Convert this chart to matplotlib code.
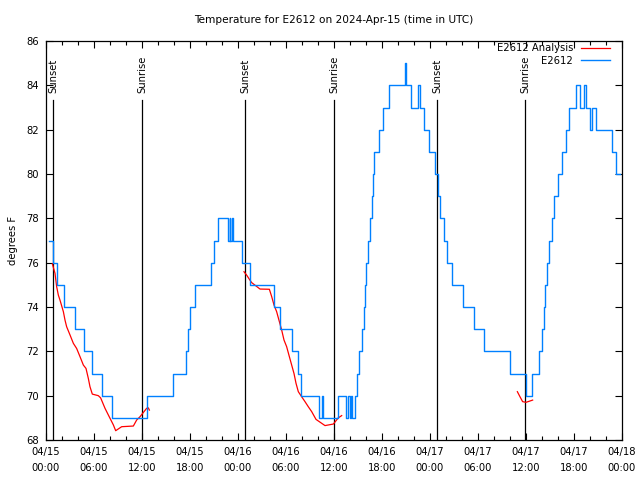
import matplotlib
matplotlib.use('Agg')
import matplotlib.pyplot as plt
import numpy as np

plt.rcParams['font.family'] = ['DejaVu Sans']
plt.rcParams['font.size'] = 7.2

# hours since 2024-04-15 00:00 UTC, step changes of the station reading
obs_hours = [0.33, 0.85, 1.41, 2.2, 3.6, 4.8, 5.7, 7.05, 8.2, 12.6, 15.9, 17.45,
             17.75, 18.05, 18.6, 20.65, 20.95, 21.5, 22.8, 22.95, 23.05, 23.2,
             23.35, 24.45, 25.45, 28.5, 29.2, 30.7, 31.45, 31.9, 34.15, 34.5,
             34.65, 36.5, 37.55, 37.8, 38.0, 38.1, 38.2, 38.6, 38.9, 39.1, 39.5,
             39.7, 39.85, 40.05, 40.25, 40.45, 40.7, 40.85, 41.0, 41.6, 42.15,
             42.9, 44.85, 44.95, 45.65, 46.5, 46.8, 47.2, 47.9, 48.6, 49.05,
             49.25, 49.75, 50.1, 50.8, 52.1, 53.5, 54.8, 58.0, 60.0, 60.75,
             61.6, 62.0, 62.2, 62.4, 62.6, 62.9, 63.2, 63.55, 63.95, 64.5, 65.0,
             65.35, 66.3, 66.7, 67.2, 67.5, 68.0, 68.3, 68.8, 70.7, 71.2, 71.75]
obs_temps = [77, 76, 75, 74, 73, 72, 71, 70, 69, 70, 71, 72,
             73, 74, 75, 76, 77, 78, 77, 78, 77, 78,
             77, 76, 75, 74, 73, 72, 71, 70, 69, 70,
             69, 70, 69, 70, 69, 70, 69, 70, 71, 72, 73,
             74, 75, 76, 77, 78, 79, 80, 81, 82, 83,
             84, 85, 84, 83, 84, 83, 82, 81, 80, 79,
             78, 77, 76, 75, 74, 73, 72, 71, 70, 71,
             72, 73, 74, 75, 76, 77, 78, 79, 80, 81, 82,
             83, 84, 83, 84, 83, 82, 83, 82, 81, 80, 80]

# analysis, three runs
ana1_hours = [0.79, 1.125, 1.33, 1.54, 1.75, 2.17, 2.375, 2.58, 3.0, 3.42, 3.83,
              4.25, 4.67, 5.0, 5.29, 5.5, 5.79, 6.54, 6.83, 7.375, 7.79, 8.42,
              8.71, 9.46, 10.92, 11.33, 11.75, 12.58, 12.79, 12.92]
ana1_temps = [75.95, 75.52, 74.92, 74.54, 74.31, 73.79, 73.41, 73.11, 72.74,
              72.36, 72.13, 71.76, 71.38, 71.23, 70.78, 70.4, 70.07, 70.0,
              69.9, 69.43, 69.13, 68.68, 68.42, 68.6, 68.63, 68.9, 69.05,
              69.43, 69.45, 69.35]
ana2_hours = [24.75, 25.08, 25.42, 25.71, 26.75, 27.92, 28.21, 28.5, 28.83,
              29.17, 29.46, 29.75, 30.08, 30.42, 30.71, 31.0, 31.25, 31.54,
              31.96, 32.375, 32.79, 33.21, 33.75, 34.875, 35.92, 36.54, 36.96]
ana2_temps = [75.59, 75.44, 75.25, 75.1, 74.81, 74.8, 74.47, 74.09, 73.79,
              73.34, 72.96, 72.51, 72.21, 71.76, 71.38, 71.0, 70.56, 70.18,
              69.95, 69.73, 69.5, 69.28, 68.93, 68.65, 68.72, 69.0, 69.1]
ana3_hours = [58.92, 59.25, 59.58, 60.0, 60.42, 60.83]
ana3_temps = [70.18, 69.95, 69.73, 69.7, 69.75, 69.8]

sun_hours = [0.88, 12.0, 24.88, 36.0, 48.9, 59.9]
sun_labels = ['Sunset', 'Sunrise', 'Sunset', 'Sunrise', 'Sunset', 'Sunrise']

tick_labels = ['04/15\n00:00', '04/15\n06:00', '04/15\n12:00', '04/15\n18:00',
               '04/16\n00:00', '04/16\n06:00', '04/16\n12:00', '04/16\n18:00',
               '04/17\n00:00', '04/17\n06:00', '04/17\n12:00', '04/17\n18:00',
               '04/18\n00:00']

blue = '#0080ff'

fig = plt.figure(figsize=(6.4, 4.8), dpi=100)
ax = fig.add_axes([46 / 640, 40 / 480, 576 / 640, 399 / 480])

for h, lab in zip(sun_hours, sun_labels):
    ax.axvline(h, ymin=0, ymax=(440 - 100) / 399, color='black', lw=0.9)
    ax.text(h, 68 + (440 - 93) / 399 * 18, lab, rotation=90,
            ha='center', va='bottom', fontsize=7.2)

ax.plot(ana1_hours, ana1_temps, color='red', lw=0.9, label='E2612 Analysis')
ax.plot(ana2_hours, ana2_temps, color='red', lw=0.9)
ax.plot(ana3_hours, ana3_temps, color='red', lw=0.9)
ax.plot(obs_hours, obs_temps, color=blue, lw=1.0, drawstyle='steps-post',
        label='E2612')

ax.set_xlim(0, 72)
ax.set_ylim(68, 86)
ax.set_xticks(range(0, 73, 6))
ax.set_xticks(range(0, 73, 2), minor=True)
ax.set_xticklabels(tick_labels, linespacing=1.75)
ax.set_yticks(range(68, 87, 2))
ax.tick_params(which='both', direction='in', top=True, right=True,
               labelsize=7.2, width=0.8)
ax.tick_params(which='major', length=5)
ax.tick_params(which='minor', length=3)
ax.tick_params(axis='x', pad=5)
ax.tick_params(axis='y', pad=5)
for s in ax.spines.values():
    s.set_linewidth(0.9)

ax.set_ylabel('degrees F', fontsize=7.2, labelpad=6)
fig.text(334 / 640, 1 - 20 / 480, 'Temperature for E2612 on 2024-Apr-15 (time in UTC)',
         ha='center', va='center', fontsize=7.6)

ax.legend(loc='upper right', bbox_to_anchor=(610 / 640, 1 - 43 / 480),
          bbox_transform=fig.transFigure, frameon=False, markerfirst=False,
          handlelength=2.9, handletextpad=0.8, labelspacing=0.25,
          borderpad=0, borderaxespad=0, fontsize=7.2)

fig.savefig('out.png', dpi=100)
